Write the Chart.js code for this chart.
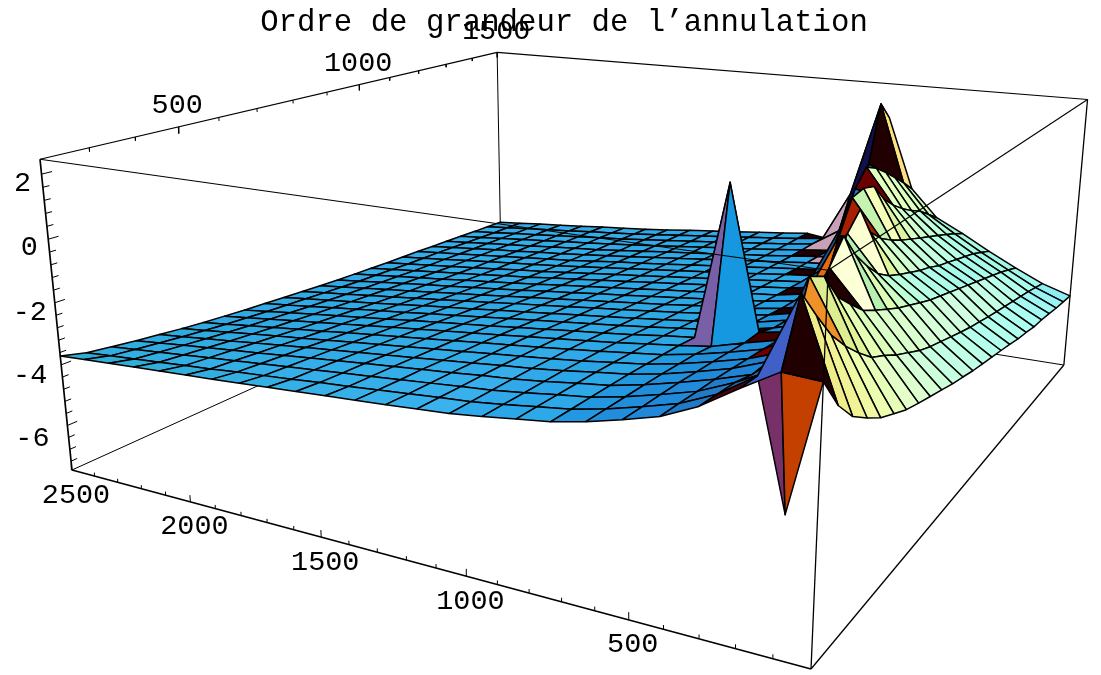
<!DOCTYPE html>
<html>
<head>
<meta charset="utf-8">
<title>Ordre de grandeur de l'annulation</title>
<script src="https://cdn.jsdelivr.net/npm/chart.js@4/dist/chart.umd.min.js"></script>
<style>
  html, body { margin: 0; padding: 0; background: #fff; }
  canvas { display: block; }
</style>
</head>
<body>
<canvas id="myChart" width="1101" height="675"></canvas>
<script>
//# Values
const titleText = "Ordre de grandeur de l\u2019annulation";

const xValues = [0,104,208,313,417,521,625,729,833,938,1042,1146,1250,1354,1458,1563,1667,1771,1875,1979,2083,2188,2292,2396,2500];
const yValues = [200,254,308,363,417,471,525,579,633,688,742,796,850,904,958,1013,1067,1121,1175,1229,1283,1338,1392,1446,1500];

// one row per xValues entry, one column per yValues entry
const zValues = [
  [-0.18,-1.10,-1.73,-2.13,-2.48,-2.72,-2.96,-3.12,-3.27,-3.42,-3.57,-3.69,-3.82,-3.92,-4.02,-4.12,-4.22,-4.34,-4.42,-4.52,-4.56,-4.63,-4.71,-4.76,-4.81],
  [-0.12,1.50,0.66,-0.14,-0.73,-1.23,-1.67,-1.93,-2.23,-2.48,-2.73,-2.92,-3.07,-3.22,-3.37,-3.51,-3.62,-3.74,-3.85,-3.95,-4.05,-4.15,-4.25,-4.37,-4.49],
  [-0.71,-0.73,-0.90,-0.70,0.96,0.69,-0.14,-0.63,-1.09,-1.38,-1.63,-1.88,-2.08,-2.28,-2.47,-2.62,-2.77,-2.92,-3.07,-3.22,-3.37,-3.52,-3.67,-3.85,-4.03],
  [-1.35,-1.38,-1.41,-1.53,-1.50,-1.55,-1.40,-0.80,0.00,0.68,-0.14,-0.73,-1.23,-1.56,-1.78,-1.98,-2.18,-2.33,-2.53,-2.67,-2.82,-2.97,-3.12,-3.32,-3.52],
  [-1.80,-1.81,-1.83,-1.84,-1.87,-1.91,-1.95,-2.00,-2.05,-2.10,-1.80,-1.00,-0.10,0.43,-0.53,-0.98,-1.28,-1.53,-1.73,-1.93,-2.13,-2.33,-2.53,-2.74,-2.97],
  [-2.08,-2.09,-2.10,-2.11,-2.14,-2.17,-2.21,-2.25,-2.23,-2.40,-2.45,-2.50,-2.55,-2.00,-0.80,0.25,0.35,0.20,-0.44,-0.88,-1.23,-1.53,-1.78,-2.13,-2.48],
  [-2.33,-2.34,-2.35,-2.36,-2.38,-2.41,-2.44,-2.52,2.11,-2.61,-2.67,-2.73,-2.80,-2.83,-2.88,-2.92,-2.40,-1.20,-0.20,0.36,0.12,-0.24,-0.63,-1.03,-1.47],
  [-2.53,-2.54,-2.55,-2.56,-2.57,-2.60,-2.63,-2.66,-2.72,-2.78,-2.83,-2.89,-2.95,-3.00,-3.06,-3.10,-3.15,-3.20,-3.25,-3.30,-3.30,-2.50,-0.24,1.85,1.16],
  [-2.65,-2.66,-2.67,-2.68,-2.69,-2.72,-2.75,-2.78,-2.83,-2.89,-2.95,-3.00,-3.06,-3.11,-3.16,-3.21,-3.26,-3.30,-3.35,-3.38,-3.40,-3.42,-2.90,-1.70,-2.60],
  [-2.78,-2.79,-2.80,-2.81,-2.82,-2.85,-2.87,-2.91,-2.96,-3.02,-3.07,-3.12,-3.17,-3.23,-3.28,-3.32,-3.37,-3.41,-3.45,-3.49,-3.52,-3.54,-3.55,-3.57,-3.87],
  [-2.89,-2.90,-2.91,-2.92,-2.93,-2.96,-2.98,-3.02,-3.07,-3.13,-3.18,-3.23,-3.29,-3.34,-3.39,-3.43,-3.49,-3.53,-3.57,-3.60,-3.64,-3.66,-3.69,-3.71,-3.74],
  [-2.95,-2.97,-2.99,-3.00,-3.02,-3.05,-3.08,-3.12,-3.17,-3.23,-3.29,-3.34,-3.39,-3.44,-3.49,-3.54,-3.59,-3.63,-3.67,-3.70,-3.74,-3.77,-3.79,-3.82,-3.85],
  [-3.02,-3.05,-3.07,-3.09,-3.12,-3.15,-3.18,-3.22,-3.28,-3.34,-3.39,-3.44,-3.50,-3.55,-3.60,-3.64,-3.69,-3.73,-3.77,-3.81,-3.85,-3.87,-3.90,-3.92,-3.95],
  [-3.08,-3.12,-3.15,-3.17,-3.21,-3.25,-3.28,-3.33,-3.38,-3.44,-3.50,-3.55,-3.60,-3.65,-3.70,-3.75,-3.80,-3.84,-3.88,-3.91,-3.95,-3.97,-4.00,-4.03,-4.06],
  [-3.14,-3.20,-3.23,-3.26,-3.30,-3.34,-3.38,-3.43,-3.49,-3.54,-3.60,-3.65,-3.71,-3.76,-3.81,-3.85,-3.90,-3.94,-3.98,-4.01,-4.05,-4.08,-4.11,-4.13,-4.16],
  [-3.20,-3.27,-3.31,-3.34,-3.39,-3.44,-3.48,-3.53,-3.59,-3.65,-3.70,-3.75,-3.81,-3.86,-3.91,-3.96,-4.00,-4.04,-4.08,-4.12,-4.15,-4.18,-4.21,-4.23,-4.26],
  [-3.26,-3.35,-3.39,-3.43,-3.48,-3.53,-3.58,-3.63,-3.69,-3.75,-3.81,-3.86,-3.92,-3.97,-4.02,-4.06,-4.11,-4.15,-4.19,-4.22,-4.26,-4.28,-4.31,-4.34,-4.37],
  [-3.32,-3.42,-3.47,-3.52,-3.57,-3.63,-3.68,-3.73,-3.79,-3.85,-3.91,-3.96,-4.02,-4.07,-4.12,-4.17,-4.21,-4.25,-4.29,-4.32,-4.36,-4.38,-4.41,-4.44,-4.47],
  [-3.38,-3.49,-3.55,-3.61,-3.66,-3.73,-3.78,-3.84,-3.90,-3.96,-4.01,-4.07,-4.12,-4.17,-4.22,-4.26,-4.30,-4.34,-4.37,-4.41,-4.44,-4.47,-4.49,-4.52,-4.55],
  [-3.43,-3.57,-3.63,-3.70,-3.76,-3.83,-3.89,-3.94,-4.00,-4.06,-4.12,-4.17,-4.22,-4.27,-4.31,-4.36,-4.40,-4.42,-4.46,-4.49,-4.52,-4.55,-4.58,-4.60,-4.63],
  [-3.49,-3.64,-3.71,-3.78,-3.85,-3.92,-3.99,-4.05,-4.10,-4.16,-4.22,-4.27,-4.32,-4.36,-4.41,-4.45,-4.49,-4.51,-4.55,-4.58,-4.61,-4.64,-4.66,-4.69,-4.72],
  [-3.54,-3.71,-3.79,-3.87,-3.95,-4.02,-4.09,-4.15,-4.21,-4.26,-4.32,-4.37,-4.42,-4.46,-4.50,-4.54,-4.58,-4.60,-4.63,-4.66,-4.69,-4.72,-4.75,-4.77,-4.80],
  [-3.60,-3.78,-3.87,-3.96,-4.04,-4.12,-4.19,-4.25,-4.31,-4.37,-4.42,-4.47,-4.52,-4.56,-4.60,-4.64,-4.67,-4.69,-4.72,-4.75,-4.77,-4.80,-4.83,-4.85,-4.88],
  [-3.65,-3.85,-3.95,-4.05,-4.14,-4.22,-4.30,-4.36,-4.42,-4.47,-4.52,-4.57,-4.62,-4.66,-4.69,-4.73,-4.76,-4.78,-4.80,-4.83,-4.86,-4.89,-4.92,-4.94,-4.97],
  [-3.71,-3.92,-4.03,-4.14,-4.23,-4.32,-4.40,-4.46,-4.52,-4.57,-4.62,-4.67,-4.72,-4.76,-4.79,-4.82,-4.85,-4.87,-4.89,-4.92,-4.94,-4.97,-5.00,-5.02,-5.05],
];

// the one downward spike at the front, it does not sit on a grid crossing
const dipX = [104];
const dipY = [229];
const dipZ = [-3.92];

const xRange = [0, 2500];
const yRange = [200, 1500];
const zRange = [-7.5, 2.45];

const xTickLabels = [500, 1000, 1500, 2000, 2500];
const xMinorTicks = [100,200,300,400,600,700,800,900,1100,1200,1300,1400,1600,1700,1800,1900,2100,2200,2300,2400];
const yTickLabels = [500, 1000, 1500];
const yMinorTicks = [300,400,600,700,800,900,1100,1200,1300,1400];
const zTickLabels = [2, 0, -2, -4, -6];
const zMinorTicks = [1.6,1.2,0.8,0.4,-0.4,-0.8,-1.2,-1.6,-2.4,-2.8,-3.2,-3.6,-4.4,-4.8,-5.2,-5.6,-6.4,-6.8,-7.2];

//# Faces whose shade the light model below does not give, keyed "row,column"
const faceShades = {
  "5,7": "#1598e0",
  "6,7": "#7860a8",
  "0,0": "#200000",
  "1,0": "#4060c8",
  "6,22": "#200000",
  "6,23": "#ffe080",
  "7,22": "#10104a",
  dipRight: "#c44000",
  dipLeft: "#783068",
};

// same idea along the ridge: the face on top at this spot of the picture takes the shade
const ridgeShades = [
  [862, 182, "#6b0000"],
  [850, 217, "#a82000"],
  [857, 197, "#6b0000"],
  [835, 245, "#e86a10"],
  [835, 232, "#c8a0b8"],
  [825, 245, "#c8a0b8"],
  [815, 262, "#c8a0b8"],
  [815, 305, "#f09028"],
  [820, 318, "#f09028"],
  [826, 290, "#dcee90"],
  [846, 293, "#200000"],
  [813, 238, "#200000"],
  [803, 255, "#200000"],
  [800, 273, "#200000"],
  [789, 293, "#200000"],
  [779, 314, "#200000"],
  [770, 335, "#400000"],
  [762, 354, "#700000"],
  [745, 382, "#500010"],
  [858, 255, "#b8f0b0"],
  [850, 250, "#b8f0b0"],
  [872, 208, "#c4f4b0"],
  [880, 195, "#dcf4a0"],
];

//# Camera, fitted on the corners of the box
const origin = [811, 669];
const uImage = [-716.7, -53.3];
const vImage = [838, -103.2];
const wImage = [-44.9, -419];
const perspective = [0.31, 0.55, -0.075];

const uDir = [-0.86, 0.117, -0.497];
const vDir = [0.511, 0.205, -0.835];
const wDir = [-0.004, 0.972, 0.236];
const boxHeight = 0.4;

const toBox = function (x, y, z) {
  return [
    (x - xRange[0]) / (xRange[1] - xRange[0]),
    (y - yRange[0]) / (yRange[1] - yRange[0]),
    (z - zRange[0]) / (zRange[1] - zRange[0]),
  ];
};

const depthOf = function (b) {
  return 1 + perspective[0] * b[0] + perspective[1] * b[1] + perspective[2] * b[2];
};

const project = function (b) {
  const d = depthOf(b);
  return {
    x: (origin[0] + uImage[0] * b[0] + vImage[0] * b[1] + wImage[0] * b[2]) / d,
    y: (origin[1] + uImage[1] * b[0] + vImage[1] * b[1] + wImage[1] * b[2]) / d,
  };
};

//# Same three coloured lights as the original renderer: red, green, blue
const viewPos = function (b) {
  return [0, 1, 2].map((k) => uDir[k] * b[0] + vDir[k] * b[1] + wDir[k] * boxHeight * b[2]);
};

const cross = function (a, b) {
  return [a[1] * b[2] - a[2] * b[1], a[2] * b[0] - a[0] * b[2], a[0] * b[1] - a[1] * b[0]];
};

const dot = (a, b) => a[0] * b[0] + a[1] * b[1] + a[2] * b[2];

const screenArea = function (pts) {
  const s = pts.map(project);
  let area = 0;
  s.forEach((p, k) => {
    const n = s[(k + 1) % s.length];
    area += p.x * n.y - n.x * p.y;
  });
  return area;
};

const faceColor = function (pts) {
  // seen from underneath: nothing lights it
  if (screenArea(pts) < 0) return "#200000";
  const q = pts.map(viewPos);
  const last = q[q.length - 1];
  const sub = (a, b) => [a[0] - b[0], a[1] - b[1], a[2] - b[2]];
  let n = cross(sub(q[2], q[0]), sub(last, q[1]));
  if (dot(n, wDir) < 0) n = n.map((c) => -c);
  const len = Math.sqrt(dot(n, n));
  n = n.map((c) => c / len);
  const red = Math.max(0, dot(n, [Math.SQRT1_2, 0, Math.SQRT1_2]));
  const green = Math.max(0, dot(n, [0.57735, 0.57735, 0.57735]));
  const blue = Math.max(0, dot(n, [0, Math.SQRT1_2, Math.SQRT1_2]));
  // the front of the blue sheet stays blue-green in the reference, never indigo
  const lightBlue = 0.1 + blue;
  const lightGreen = Math.max(0.05 + green, 0.62 * lightBlue);
  const r = Math.min(255, Math.round((0.13 + 0.95 * red) * 255));
  const g = Math.min(255, Math.round(lightGreen * 255));
  const b = Math.min(255, Math.round(lightBlue * 255));
  return `rgb(${r},${g},${b})`;
};

//# Building the faces of the surface
const gridPoint = (i, j) => toBox(xValues[i], yValues[j], zValues[i][j]);
const faces = [];
for (let i = 0; i < xValues.length - 1; i++) {
  for (let j = 0; j < yValues.length - 1; j++) {
    faces.push({
      key: `${i},${j}`,
      pts: [gridPoint(i, j), gridPoint(i + 1, j), gridPoint(i + 1, j + 1), gridPoint(i, j + 1)],
    });
  }
}
const dipPoint = toBox(dipX[0], dipY[0], dipZ[0]);
faces.push({ key: "dipRight", pts: [gridPoint(0, 0), gridPoint(1, 0), dipPoint] });
faces.push({ key: "dipLeft", pts: [gridPoint(1, 0), gridPoint(2, 1), dipPoint] });

// nearest face first, chart.js paints the first dataset on top
const meanDepth = (f) => f.pts.reduce((acc, p) => acc + depthOf(p), 0) / f.pts.length;
faces.sort((a, b) => meanDepth(a) - meanDepth(b));

const covers = function (f, px, py) {
  const s = f.pts.map(project);
  let inside = false;
  s.forEach((p, k) => {
    const n = s[(k + 1) % s.length];
    if (p.y > py !== n.y > py && px < ((n.x - p.x) * (py - p.y)) / (n.y - p.y) + p.x) inside = !inside;
  });
  return inside;
};
ridgeShades.forEach((spot) => {
  const top = faces.find((f) => covers(f, spot[0], spot[1]));
  if (top) top.shade = spot[2];
});

const lineData = (color, width, a, b) => ({
  data: [project(a), project(b)],
  showLine: true,
  fill: false,
  borderColor: color,
  borderWidth: width,
  pointRadius: 0,
  tension: 0,
});

const corner = (u, v, w) => [u, v, w];

//# Box edges and ticks in front of the surface
const datasets = [];
datasets.push(lineData("#000", 1.1, corner(1, 0, 1), corner(0, 0, 1)));
datasets.push(lineData("#000", 1.1, corner(0, 1, 1), corner(0, 0, 1)));
datasets.push(lineData("#000", 1.3, corner(0, 0, 1), corner(0, 0, 0)));
datasets.push(lineData("#000", 1.7, corner(1, 0, 0), corner(0, 0, 0)));
datasets.push(lineData("#000", 1.7, corner(1, 0, 0), corner(1, 0, 1)));
datasets.push(lineData("#000", 1.3, corner(0, 0, 0), corner(0, 1, 0)));
datasets.push(lineData("#000", 1.3, corner(0, 1, 0), corner(0, 1, 1)));
datasets.push(lineData("#000", 1.1, corner(1, 0, 1), corner(1, 1, 1)));
datasets.push(lineData("#000", 1.1, corner(0, 1, 1), corner(1, 1, 1)));

const addTick = function (start, end) {
  datasets.push(lineData("#000", 1, start, end));
};
xTickLabels.concat(xMinorTicks).forEach((x) => {
  const b = toBox(x, yRange[0], zRange[0]);
  const h = xTickLabels.includes(x) ? 0.022 : 0.012;
  addTick(b, [b[0], b[1], b[2] + h]);
});
yTickLabels.concat(yMinorTicks).forEach((y) => {
  const b = toBox(xRange[1], y, zRange[1]);
  const h = yTickLabels.includes(y) ? 0.022 : 0.012;
  addTick(b, [b[0], b[1], b[2] - h]);
});
zTickLabels.concat(zMinorTicks).forEach((z) => {
  const b = toBox(xRange[1], yRange[0], z);
  const h = zTickLabels.includes(z) ? 0.016 : 0.01;
  addTick(b, [b[0], b[1] + h, b[2]]);
});

//* Surface faces
faces.forEach((f) => {
  const pts = f.pts.map(project);
  pts.push(pts[0]);
  datasets.push({
    data: pts,
    showLine: true,
    fill: "shape",
    backgroundColor: f.shade || faceShades[f.key] || faceColor(f.pts),
    borderColor: "#000",
    borderWidth: 1.5,
    borderJoinStyle: "round",
    pointRadius: 0,
    tension: 0,
  });
});

//* Box edges behind the surface
datasets.push(lineData("#000", 1, corner(1, 1, 1), corner(1, 1, 0)));
datasets.push(lineData("#000", 1, corner(1, 0, 0), corner(1, 1, 0)));
datasets.push(lineData("#000", 1, corner(0, 1, 0), corner(1, 1, 0)));

//# Title and tick labels are placed from the same projection
const zLabelShiftX = [-19, -19, -25, -31, -35];
const zLabelShiftY = [9, 8, 10, 11, 13];

const textPlugin = {
  id: "boxText",
  afterDraw(chart) {
    const ctx = chart.ctx;
    const sx = chart.scales.x;
    const sy = chart.scales.y;
    ctx.save();
    ctx.fillStyle = "#000";
    ctx.textAlign = "center";
    ctx.textBaseline = "middle";

    ctx.font = '30.7px "Liberation Mono"';
    ctx.fillText(titleText, sx.getPixelForValue(564), sy.getPixelForValue(23));

    ctx.font = '28.5px "Liberation Mono"';
    const put = function (label, b, dx, dy) {
      const p = project(b);
      ctx.fillText(String(label), sx.getPixelForValue(p.x + dx), sy.getPixelForValue(p.y + dy));
    };
    xTickLabels.forEach((x) => put(x, toBox(x, yRange[0], zRange[0]), 4, 25));
    yTickLabels.forEach((y) => put(y, toBox(xRange[1], y, zRange[1]), -1, -21));
    zTickLabels.forEach((z, k) => put(z, toBox(xRange[1], yRange[0], z), zLabelShiftX[k], zLabelShiftY[k]));
    ctx.restore();
  },
};

const ctx = document.getElementById("myChart").getContext("2d");
new Chart(ctx, {
  type: "scatter",
  data: { datasets: datasets },
  plugins: [textPlugin],
  options: {
    responsive: false,
    animation: false,
    events: [],
    layout: { padding: 0 },
    plugins: {
      legend: { display: false },
      title: { display: false },
      tooltip: { enabled: false },
    },
    scales: {
      x: { type: "linear", min: 0, max: 1101, display: false },
      y: { type: "linear", min: 0, max: 675, reverse: true, display: false },
    },
  },
});
</script>
</body>
</html>
